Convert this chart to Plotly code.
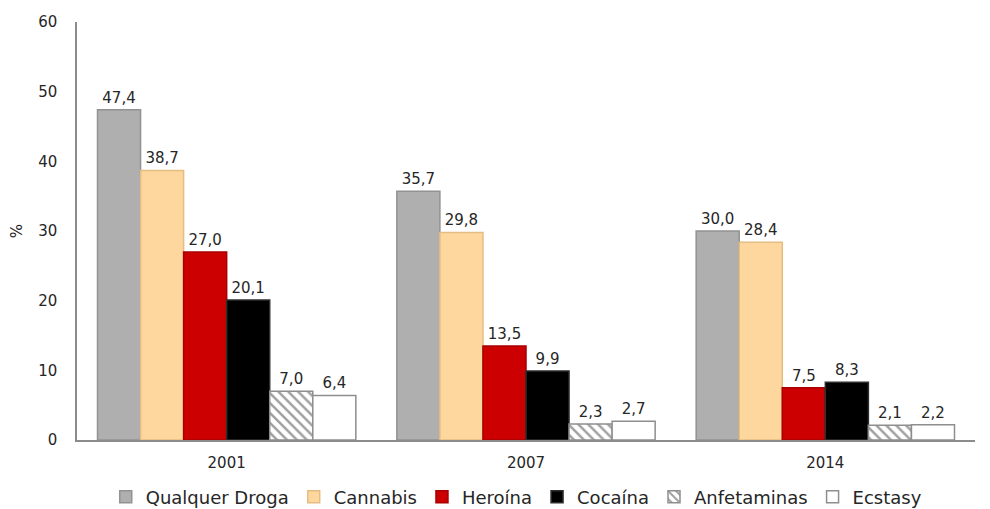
import plotly.graph_objects as go

# Data
years = ['2001', '2007', '2014']
series_names = ['Qualquer Droga', 'Cannabis', 'Heroína', 'Cocaína', 'Anfetaminas', 'Ecstasy']
qualquer_droga = [47.4, 35.7, 30.0]
cannabis = [38.7, 29.8, 28.4]
heroina = [27.0, 13.5, 7.5]
cocaina = [20.1, 9.9, 8.3]
anfetaminas = [7.0, 2.3, 2.1]
ecstasy = [6.4, 2.7, 2.2]

values = [qualquer_droga, cannabis, heroina, cocaina, anfetaminas, ecstasy]

# Styles (fill, border, pattern)
fills = ['#AFAFAF', '#FDD79E', '#CC0000', '#000000', '#FFFFFF', '#FFFFFF']
borders = ['#929292', '#E5BC82', '#A80000', '#2E2E2E', '#8E8E8E', '#8E8E8E']
patterns = ['', '', '', '', '\\', '']

font_family = '"DejaVu Sans", sans-serif'
text_color = '#262626'

fig = go.Figure()
for name, vals, fc, lc, pat in zip(series_names, values, fills, borders, patterns):
    marker = dict(color=fc, line=dict(color=lc, width=1.5))
    if pat:
        marker['pattern'] = dict(shape=pat, fgcolor='#A0A0A0', bgcolor='#FFFFFF',
                                 size=7, solidity=0.35, fillmode='replace')
    fig.add_trace(go.Bar(
        x=years, y=vals, name=name, marker=marker,
        texttemplate='%{y:.1f}', textposition='outside',
        textfont=dict(size=15, color=text_color, family=font_family),
        cliponaxis=False,
    ))

# the page body adds an 8px offset, so margins are trimmed accordingly
fig.update_layout(
    width=990, height=509,
    margin=dict(l=69, r=23, t=14, b=77),
    paper_bgcolor='white', plot_bgcolor='white',
    barmode='group', bargap=0.137, bargroupgap=0,
    separators=',.',
    font=dict(family=font_family, size=15, color=text_color),
    showlegend=True,
    legend=dict(orientation='h', xref='paper', x=0.032, xanchor='left',
                yref='container', y=0.039, yanchor='middle',
                font=dict(size=18, color=text_color), itemwidth=30,
                traceorder='normal'),
)
fig.update_yaxes(range=[0, 60], dtick=10, showgrid=False, zeroline=False,
                 showline=True, linecolor='#8C8C8C', linewidth=1.5,
                 ticks='', ticklabelstandoff=15, automargin=False,
                 tickfont=dict(size=15),
                 title=dict(text='%', standoff=12, font=dict(size=15)))
fig.update_xaxes(showline=True, linecolor='#8C8C8C', linewidth=1.5, showgrid=False,
                 ticks='', ticklabelstandoff=8, automargin=False,
                 tickfont=dict(size=15))

fig.write_html('out.html')
